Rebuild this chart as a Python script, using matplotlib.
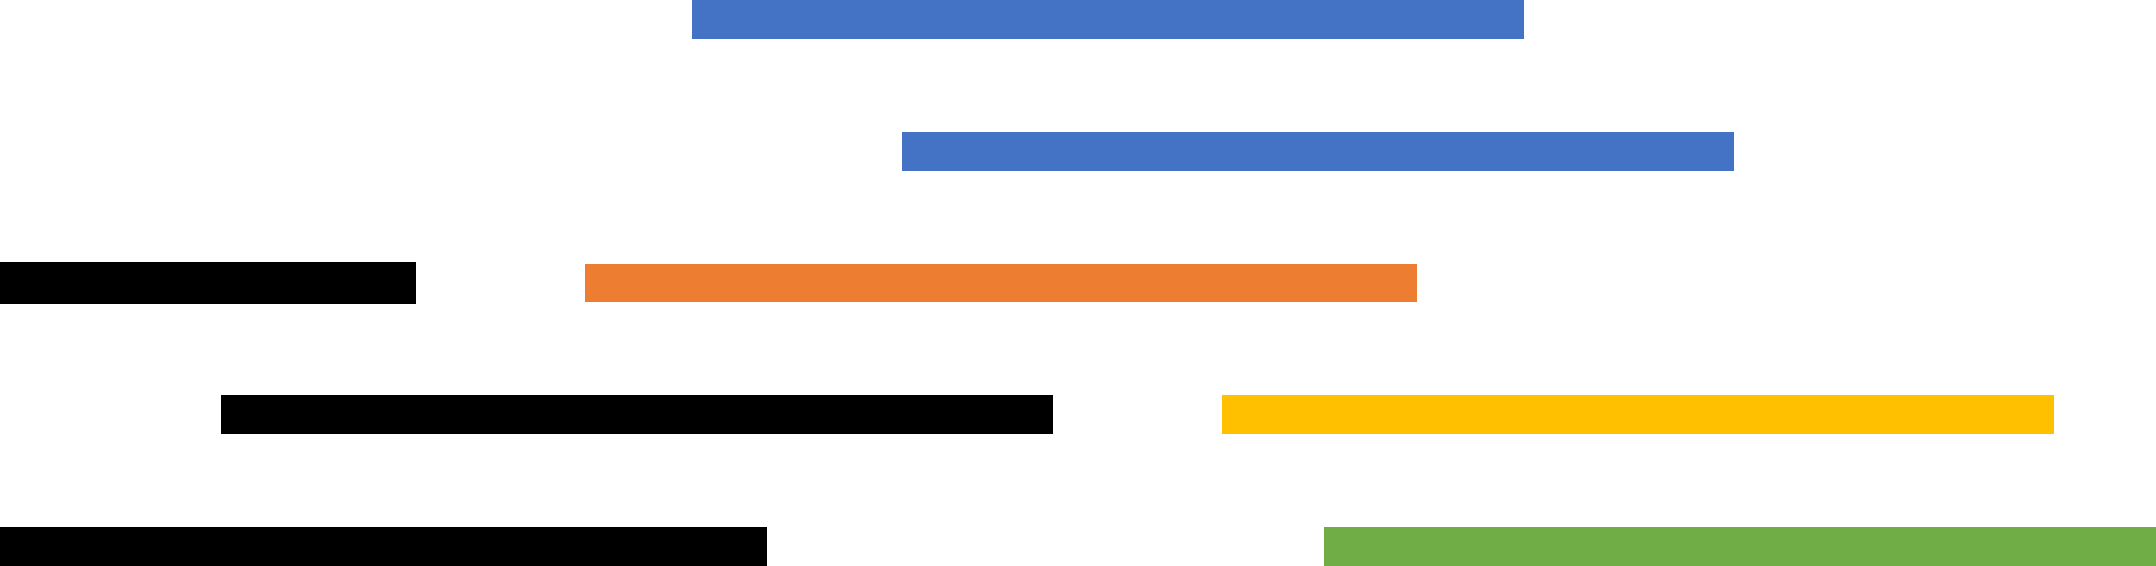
import matplotlib.pyplot as plt

# tarefas coloridas (linha, inicio, duracao)
task_rows = [0, 1, 2, 3, 4]
task_start = [8.32, 10.84, 7.03, 14.69, 15.91]
task_len = [10.0, 10.0, 10.0, 10.0, 10.0]
task_colors = ['#4472C4', '#4472C4', '#ED7D31', '#FFC000', '#70AD47']

# barras pretas (espera)
wait_rows = [2, 3, 4]
wait_start = [0.0, 2.66, 0.0]
wait_len = [5.0, 10.0, 9.22]

fig = plt.figure(figsize=(21.56, 5.66), dpi=100)
ax = fig.add_axes([0, 0, 1, 1])

ax.barh(task_rows, task_len, left=task_start, height=0.295, color=task_colors)
ax.barh(wait_rows, wait_len, left=wait_start, height=[0.325, 0.295, 0.295], color='black')

ax.set_xlim(0, 25.91)
ax.set_ylim(4.148, -0.148)
ax.axis('off')

fig.savefig('out.png', dpi=100, facecolor='white')
